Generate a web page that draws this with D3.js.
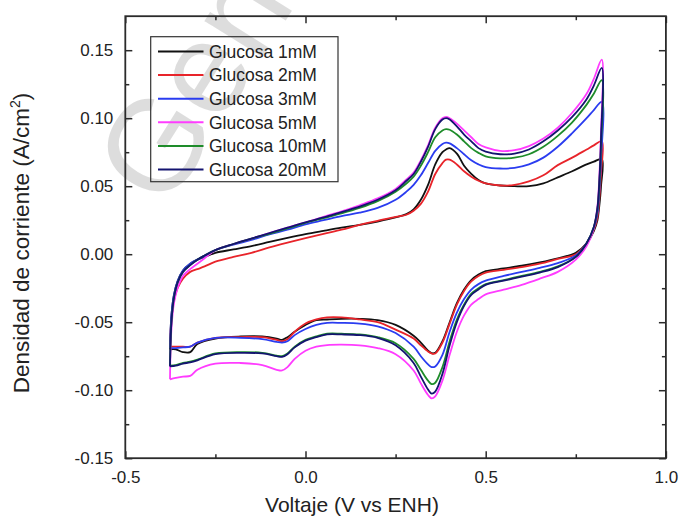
<!DOCTYPE html>
<html><head><meta charset="utf-8">
<script src="https://cdn.jsdelivr.net/npm/d3@7"></script>
<style>
html,body{margin:0;padding:0;background:#fff;}
svg{display:block;font-family:"Liberation Sans",Arial,sans-serif;}
</style></head>
<body><svg id="chart" width="679" height="525"></svg>
<script>
// ---- data ----
const seriesLabels = ["Glucosa 1mM","Glucosa 2mM","Glucosa 3mM","Glucosa 5mM","Glucosa 10mM","Glucosa 20mM"];
const seriesColors = ["#111111","#e8242a","#2a3cf0","#ff3cff","#1e8c2a","#141470"];

const voltFwd = [-0.376,-0.372,-0.365,-0.355,-0.34,-0.32,-0.30,-0.28,-0.25,-0.20,-0.15,-0.10,-0.05,0.0,0.05,0.10,0.15,0.20,0.25,0.28,0.30,0.32,0.34,0.36,0.38,0.39,0.40,0.42,0.44,0.46,0.48,0.50,0.54,0.58,0.62,0.66,0.70,0.74,0.78,0.80,0.822];
const voltRev = [0.822,0.82,0.815,0.81,0.80,0.78,0.75,0.70,0.65,0.60,0.55,0.50,0.48,0.46,0.44,0.42,0.40,0.38,0.36,0.35,0.34,0.32,0.30,0.25,0.20,0.15,0.10,0.06,0.03,0.0,-0.03,-0.05,-0.065,-0.08,-0.12,-0.18,-0.25,-0.30,-0.32,-0.34,-0.36,-0.376];

const fwd1mM = [-0.070,-0.045,-0.030,-0.020,-0.012,-0.007,-0.004,-0.002,0.001,0.0035,0.006,0.009,0.012,0.0148,0.0172,0.0195,0.0215,0.024,0.027,0.0295,0.033,0.040,0.051,0.066,0.075,0.077,0.078,0.074,0.065,0.059,0.0545,0.052,0.0505,0.050,0.050,0.052,0.0565,0.061,0.066,0.068,0.070];
const fwd2mM = [-0.068,-0.048,-0.034,-0.025,-0.018,-0.013,-0.011,-0.009,-0.0055,-0.002,0.001,0.005,0.0085,0.0118,0.015,0.018,0.0215,0.0245,0.0275,0.029,0.032,0.037,0.046,0.059,0.067,0.0695,0.0695,0.066,0.061,0.057,0.054,0.052,0.0505,0.051,0.0535,0.058,0.0655,0.071,0.077,0.080,0.083];
const fwd3mM = [-0.069,-0.045,-0.030,-0.020,-0.012,-0.007,-0.004,-0.0015,0.003,0.007,0.0105,0.0145,0.018,0.022,0.025,0.028,0.0305,0.034,0.040,0.046,0.051,0.058,0.067,0.076,0.081,0.082,0.0815,0.078,0.0735,0.069,0.066,0.064,0.063,0.0635,0.066,0.071,0.079,0.089,0.100,0.106,0.112];
const fwd5mM = [-0.092,-0.055,-0.036,-0.025,-0.016,-0.011,-0.007,-0.003,0.003,0.0075,0.0115,0.0155,0.0195,0.0234,0.0275,0.0315,0.036,0.041,0.048,0.055,0.060,0.069,0.080,0.093,0.100,0.101,0.100,0.096,0.091,0.086,0.081,0.0785,0.076,0.0765,0.0795,0.085,0.093,0.104,0.118,0.129,0.143];
const fwd10mM = [-0.082,-0.05,-0.032,-0.021,-0.013,-0.008,-0.004,-0.001,0.003,0.0075,0.0115,0.015,0.019,0.023,0.0265,0.030,0.034,0.039,0.046,0.052,0.057,0.065,0.075,0.086,0.091,0.092,0.0915,0.088,0.083,0.078,0.0745,0.072,0.0705,0.071,0.0735,0.079,0.087,0.097,0.110,0.118,0.128];
const fwd20mM = [-0.0825,-0.05,-0.032,-0.021,-0.013,-0.008,-0.004,-0.001,0.003,0.0075,0.0115,0.0155,0.0195,0.0234,0.027,0.031,0.035,0.040,0.047,0.054,0.059,0.068,0.079,0.092,0.099,0.100,0.099,0.094,0.088,0.083,0.078,0.0755,0.0735,0.074,0.077,0.083,0.091,0.101,0.114,0.124,0.137];

const rev1mM = [0.070,0.05,0.035,0.025,0.017,0.008,0.001,-0.003,-0.006,-0.0085,-0.0105,-0.0125,-0.015,-0.019,-0.026,-0.036,-0.050,-0.064,-0.0725,-0.0728,-0.071,-0.065,-0.060,-0.052,-0.0485,-0.0475,-0.0475,-0.048,-0.0485,-0.052,-0.057,-0.061,-0.063,-0.062,-0.0605,-0.0605,-0.062,-0.066,-0.072,-0.072,-0.070,-0.070];
const rev2mM = [0.083,0.06,0.04,0.027,0.018,0.008,0.0,-0.0035,-0.007,-0.0095,-0.0115,-0.0135,-0.016,-0.020,-0.027,-0.037,-0.051,-0.065,-0.073,-0.073,-0.0715,-0.067,-0.062,-0.0555,-0.050,-0.048,-0.0465,-0.0465,-0.048,-0.051,-0.057,-0.0625,-0.064,-0.063,-0.061,-0.061,-0.0615,-0.065,-0.068,-0.068,-0.068,-0.068];
const rev3mM = [0.112,0.07,0.045,0.03,0.019,0.008,-0.001,-0.0065,-0.010,-0.013,-0.016,-0.0195,-0.022,-0.026,-0.033,-0.043,-0.057,-0.074,-0.0825,-0.083,-0.081,-0.075,-0.068,-0.058,-0.053,-0.051,-0.0505,-0.0505,-0.052,-0.055,-0.0595,-0.064,-0.065,-0.0645,-0.0625,-0.0615,-0.0615,-0.065,-0.068,-0.0685,-0.069,-0.069];
const rev5mM = [0.143,0.09,0.055,0.035,0.019,0.006,-0.004,-0.013,-0.018,-0.0225,-0.026,-0.0295,-0.033,-0.037,-0.045,-0.057,-0.074,-0.093,-0.1045,-0.106,-0.1035,-0.095,-0.0855,-0.0735,-0.069,-0.067,-0.0665,-0.0668,-0.068,-0.071,-0.077,-0.083,-0.0855,-0.085,-0.0815,-0.080,-0.0805,-0.085,-0.0895,-0.090,-0.091,-0.092];
const rev10mM = [0.128,0.08,0.05,0.033,0.02,0.008,-0.002,-0.009,-0.013,-0.016,-0.019,-0.022,-0.025,-0.029,-0.037,-0.048,-0.064,-0.083,-0.0945,-0.0955,-0.093,-0.085,-0.077,-0.0655,-0.061,-0.059,-0.0585,-0.0585,-0.0605,-0.063,-0.068,-0.073,-0.075,-0.0745,-0.0725,-0.072,-0.073,-0.0775,-0.079,-0.080,-0.0815,-0.082];
const rev20mM = [0.137,0.085,0.052,0.034,0.02,0.008,-0.002,-0.0095,-0.0135,-0.0165,-0.0195,-0.0225,-0.026,-0.030,-0.038,-0.050,-0.067,-0.088,-0.101,-0.1025,-0.0995,-0.090,-0.080,-0.067,-0.0615,-0.0595,-0.059,-0.059,-0.061,-0.0635,-0.0685,-0.0735,-0.0755,-0.075,-0.073,-0.0725,-0.0735,-0.078,-0.0795,-0.0805,-0.082,-0.0825];

const xTickLabels = ["-0.5","0.0","0.5","1.0"];
const yTickLabels = ["-0.15","-0.10","-0.05","0.00","0.05","0.10","0.15"];

const fwdSets = [fwd1mM,fwd2mM,fwd3mM,fwd5mM,fwd10mM,fwd20mM];
const revSets = [rev1mM,rev2mM,rev3mM,rev5mM,rev10mM,rev20mM];

// ---- chart ----
const svg = d3.select("#chart");
const x = d3.scaleLinear().domain([-0.5, 1.0]).range([125.3, 665.9]);
const y = d3.scaleLinear().domain([-0.15, 0.175]).range([458.2, 16.2]);

// watermark of the source image
svg.append("text")
  .attr("transform","translate(166,212) rotate(-58)")
  .attr("font-size",130).attr("fill","#d4d4d4").attr("fill-opacity",0.8)
  .text("Gene");

const plot = svg.append("g");
const line = d3.line().x(d=>x(d[0])).y(d=>y(d[1])).curve(d3.curveCatmullRom.alpha(0.5));

seriesLabels.forEach((lab,i)=>{
  const pts = voltFwd.map((v,j)=>[v, fwdSets[i][j]])
    .concat(voltRev.slice(1).map((v,j)=>[v, revSets[i][j+1]]));
  plot.append("path").attr("d", line(pts))
    .attr("fill","none").attr("stroke", seriesColors[i])
    .attr("stroke-width",1.8).attr("stroke-linejoin","round");
});

// axes
const xMajor = xTickLabels.map(Number);
const xMinor = [-0.25,0.25,0.75];
const yMajor = yTickLabels.map(Number);
const yMinor = [-0.125,-0.075,-0.025,0.025,0.075,0.125];
const axColor = "#2b2b2b";

function styleAxis(g){
  g.select(".domain").remove();
  g.selectAll(".tick line").attr("stroke",axColor).attr("stroke-width",1.5);
  g.selectAll(".tick text").attr("fill","#222").attr("font-size",17)
   .attr("font-family","'Liberation Sans',Arial,sans-serif");
}
const fmtX = d => xTickLabels[xMajor.indexOf(d)];
const fmtY = d => yTickLabels[yMajor.indexOf(d)];

svg.append("g").attr("transform",`translate(0,${y.range()[0]})`)
  .call(d3.axisBottom(x).tickValues(xMajor).tickFormat(fmtX).tickSizeInner(-7).tickSizeOuter(0).tickPadding(13)).call(styleAxis);
svg.append("g").attr("transform",`translate(0,${y.range()[0]})`)
  .call(d3.axisBottom(x).tickValues(xMinor).tickFormat("").tickSizeInner(-4).tickSizeOuter(0)).call(styleAxis);
svg.append("g").attr("transform",`translate(0,${y.range()[1]})`)
  .call(d3.axisTop(x).tickValues(xMajor).tickFormat("").tickSizeInner(-7).tickSizeOuter(0)).call(styleAxis);
svg.append("g").attr("transform",`translate(0,${y.range()[1]})`)
  .call(d3.axisTop(x).tickValues(xMinor).tickFormat("").tickSizeInner(-4).tickSizeOuter(0)).call(styleAxis);

svg.append("g").attr("transform",`translate(${x.range()[0]},0)`)
  .call(d3.axisLeft(y).tickValues(yMajor).tickFormat(fmtY).tickSizeInner(-7).tickSizeOuter(0).tickPadding(12)).call(styleAxis);
svg.append("g").attr("transform",`translate(${x.range()[0]},0)`)
  .call(d3.axisLeft(y).tickValues(yMinor).tickFormat("").tickSizeInner(-4).tickSizeOuter(0)).call(styleAxis);
svg.append("g").attr("transform",`translate(${x.range()[1]},0)`)
  .call(d3.axisRight(y).tickValues(yMajor).tickFormat("").tickSizeInner(-7).tickSizeOuter(0)).call(styleAxis);
svg.append("g").attr("transform",`translate(${x.range()[1]},0)`)
  .call(d3.axisRight(y).tickValues(yMinor).tickFormat("").tickSizeInner(-4).tickSizeOuter(0)).call(styleAxis);

// frame
svg.append("rect")
  .attr("x",x.range()[0]).attr("y",y.range()[1])
  .attr("width",x.range()[1]-x.range()[0]).attr("height",y.range()[0]-y.range()[1])
  .attr("fill","none").attr("stroke",axColor).attr("stroke-width",1.8);

// axis titles
svg.append("text").attr("x",352).attr("y",512).attr("text-anchor","middle")
  .attr("font-size",21).attr("fill","#222").text("Voltaje (V vs ENH)");
const yt = svg.append("text").attr("transform","translate(29,243) rotate(-90)")
  .attr("text-anchor","middle").attr("font-size",22.5).attr("fill","#222");
yt.append("tspan").text("Densidad de corriente (A/cm");
yt.append("tspan").attr("font-size",14).attr("dy",-9).text("2");
yt.append("tspan").attr("dy",9).text(")");

// legend
const lg = svg.append("g");
lg.append("rect").attr("x",150.7).attr("y",36.7).attr("width",187.3).attr("height",145)
  .attr("fill","none").attr("stroke","#333").attr("stroke-width",1.2);
seriesLabels.forEach((lab,i)=>{
  const cy = 51.5 + i*23.6;
  lg.append("line").attr("x1",158).attr("x2",203.5).attr("y1",cy).attr("y2",cy)
    .attr("stroke",seriesColors[i]).attr("stroke-width",2);
  lg.append("text").attr("x",209).attr("y",cy).attr("dy","0.36em")
    .attr("font-size",17.5).attr("fill","#222").text(lab);
});
</script>
</body></html>
